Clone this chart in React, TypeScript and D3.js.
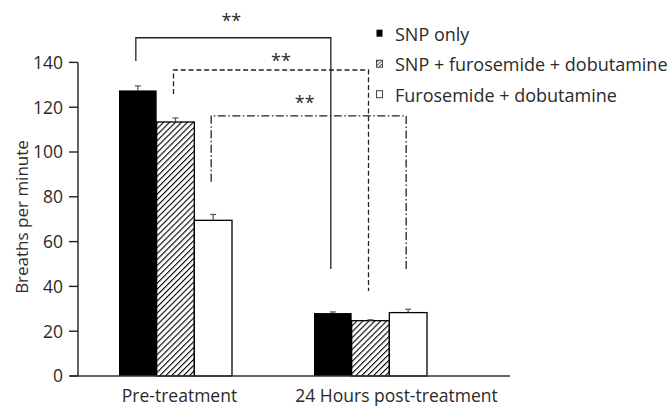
import React from "react";
import * as d3 from "d3";

const categories = ["Pre-treatment", "24 Hours post-treatment"];
const series = ["SNP only", "SNP + furosemide + dobutamine", "Furosemide + dobutamine"];
const means = [
  [127.5, 113.4, 69.5],
  [28.1, 24.7, 28.3],
];
const errors = [
  [2.0, 1.8, 2.6],
  [0.5, 0.4, 1.5],
];
const yTicks = [0, 20, 40, 60, 80, 100, 120, 140];
// significance brackets between the same series in both groups
const bracketSeries = [0, 1, 2];
const bracketTop = [151, 136.6, 116.1];
const bracketLeftBottom = [140.6, 125.9, 86.7];
const bracketRightBottom = [47.8, 37.9, 47.8];
const bracketLabels = ["**", "**", "**"];
const bracketLabelShift = [-2, 10, -4];
const bracketLabelValue = [156, 138, 119];

const W = 670;
const H = 408;
const FONT = "'Open Sans', 'Noto Sans', sans-serif";
const TXT = "#2a2a2a";

export default function App() {
  const y = d3.scaleLinear().domain([0, 140]).range([376, 62.4]);
  const x0 = d3.scaleBand<string>().domain(categories).range([78, 468]);
  const groupW = 113;
  const x1 = d3.scaleBand<string>().domain(series).range([0, groupW]);
  const barX = (gi: number, si: number) =>
    (x0(categories[gi]) as number) + x0.bandwidth() / 2 - groupW / 2 + (x1(series[si]) as number);
  const barC = (gi: number, si: number) => barX(gi, si) + x1.bandwidth() / 2;

  const fills = ["#000", "url(#hatch)", "#fff"];
  const dashes = ["none", "5,2.8", "8,2.5,1.5,2.5"];

  return (
    <svg width={W} height={H} style={{ position: "absolute", left: 0, top: 0 }}>
      <defs>
        <pattern id="hatch" patternUnits="userSpaceOnUse" width="4.2" height="4.2" patternTransform="rotate(45)">
          <rect width="4.2" height="4.2" fill="#fff" />
          <line x1="0" y1="0" x2="0" y2="4.2" stroke="#000" strokeWidth="2.2" />
        </pattern>
        <pattern id="hatchSmall" patternUnits="userSpaceOnUse" width="2.5" height="2.5" patternTransform="rotate(45)">
          <rect width="2.5" height="2.5" fill="#fff" />
          <line x1="0" y1="0" x2="0" y2="2.5" stroke="#000" strokeWidth="1.2" />
        </pattern>
      </defs>
      <rect width={W} height={H} fill="#fff" />

      {/* bars */}
      {means.map((row, gi) =>
        row.map((v, si) => (
          <rect
            key={`b${gi}-${si}`}
            x={barX(gi, si)}
            y={y(v)}
            width={x1.bandwidth()}
            height={y(0) - y(v)}
            fill={fills[si]}
            stroke="#000"
            strokeWidth={si === 0 ? 0 : 1.3}
          />
        ))
      )}

      {/* error bars */}
      {means.map((row, gi) =>
        row.map((v, si) => {
          const cx = barC(gi, si);
          const top = y(v + errors[gi][si]);
          return (
            <g key={`e${gi}-${si}`} stroke="#555" strokeWidth={1.2}>
              <line x1={cx} x2={cx} y1={y(v)} y2={top} />
              <line x1={cx - 3} x2={cx + 3} y1={top} y2={top} />
            </g>
          );
        })
      )}

      {/* axes */}
      <line x1={78} x2={78} y1={y(140)} y2={y(0)} stroke="#222" strokeWidth={1.4} />
      <line x1={70} x2={510} y1={y(0)} y2={y(0)} stroke="#333" strokeWidth={1.4} />
      {yTicks.map((t) => (
        <g key={`t${t}`}>
          <line x1={69} x2={78} y1={y(t)} y2={y(t)} stroke="#222" strokeWidth={1.4} />
          <text x={63} y={y(t)} dy="0.36em" textAnchor="end" fontFamily={FONT} fontSize={17.5} fill={TXT}>
            {t}
          </text>
        </g>
      ))}
      <text
        transform={`translate(28,${217}) rotate(-90)`}
        textAnchor="middle"
        fontFamily={FONT}
        fontSize={17}
        fill={TXT}
      >
        Breaths per minute
      </text>

      {categories.map((c, gi) => (
        <text
          key={c}
          x={(x0(c) as number) + x0.bandwidth() / 2 + (gi === 0 ? 4 : 26)}
          y={402}
          textAnchor="middle"
          fontFamily={FONT}
          fontSize={17.5}
          fill={TXT}
        >
          {c}
        </text>
      ))}

      {/* significance brackets */}
      {bracketSeries.map((si, i) => {
        const xl = barC(0, si) - 2;
        const xr = barC(1, si) - 2;
        const yt = y(bracketTop[i]);
        return (
          <g key={`br${i}`}>
            <path
              d={`M${xl},${y(bracketLeftBottom[i])}V${yt}H${xr}V${y(bracketRightBottom[i])}`}
              fill="none"
              stroke="#222"
              strokeWidth={1.3}
              strokeDasharray={dashes[i]}
            />
            <text
              x={(xl + xr) / 2 + bracketLabelShift[i]}
              y={y(bracketLabelValue[i])}
              textAnchor="middle"
              fontFamily={FONT}
              fontSize={18}
              fill={TXT}
            >
              {bracketLabels[i]}
            </text>
          </g>
        );
      })}

      {/* legend */}
      {series.map((s, si) => {
        const base = 40.7 + si * 30.5;
        return (
          <g key={`l${si}`}>
            <rect
              x={376.5}
              y={base - 11}
              width={6}
              height={7}
              fill={si === 0 ? "#000" : si === 1 ? "url(#hatchSmall)" : "#fff"}
              stroke={si === 0 ? "none" : "#444"}
              strokeWidth={1}
            />
            <text x={395} y={base} fontFamily={FONT} fontSize={18} fill={TXT}>
              {s}
            </text>
          </g>
        );
      })}
    </svg>
  );
}
